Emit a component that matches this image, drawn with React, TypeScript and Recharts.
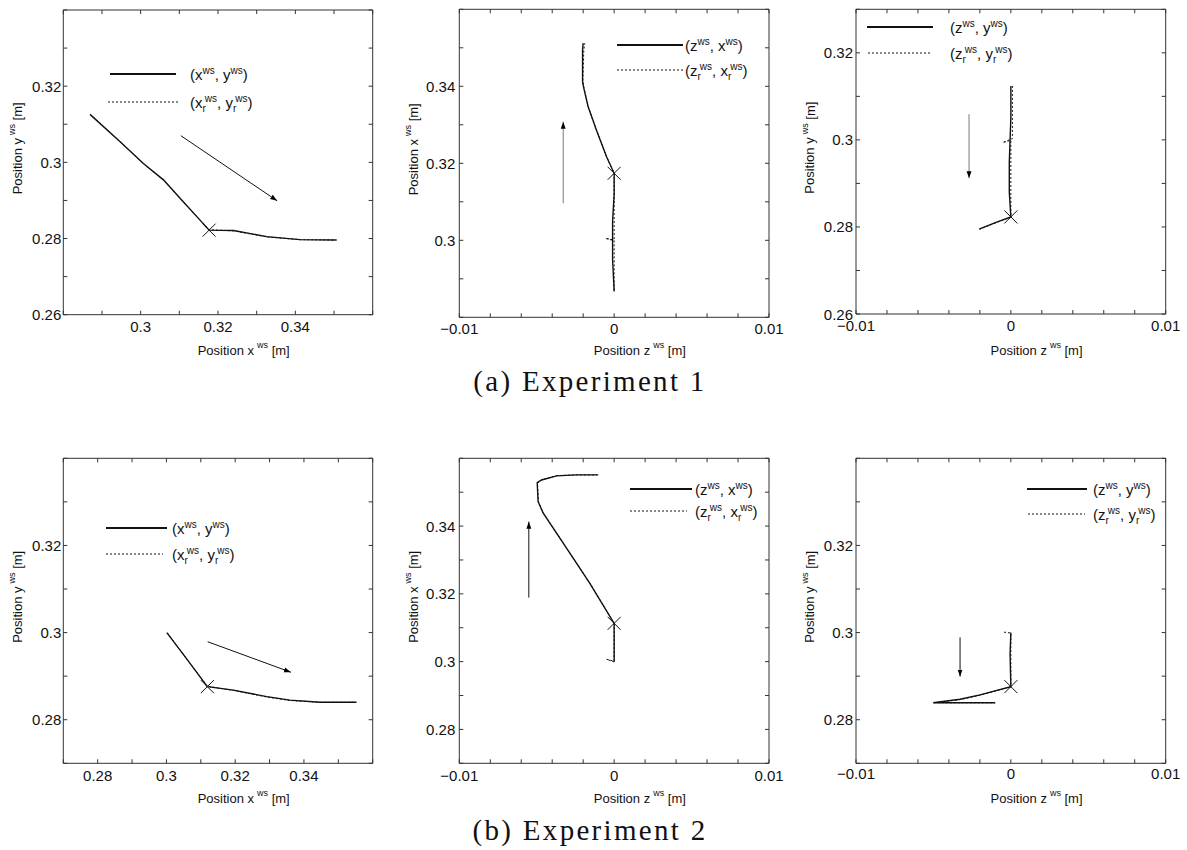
import React from 'react';
import { ScatterChart, Scatter, XAxis, YAxis, ReferenceArea, Legend } from 'recharts';

type Pt = { x: number; y: number };

// ---------- Experiment 1 ----------
// (x, y) plane
const exp1XY: Pt[] = [
  { x: 0.2869, y: 0.3126 }, { x: 0.2947, y: 0.3054 }, { x: 0.3007, y: 0.2997 }, { x: 0.3059, y: 0.2954 },
  { x: 0.3106, y: 0.2901 }, { x: 0.3153, y: 0.2849 }, { x: 0.3177, y: 0.2822 }, { x: 0.324, y: 0.2821 },
  { x: 0.3326, y: 0.2805 }, { x: 0.3412, y: 0.2797 }, { x: 0.3507, y: 0.2796 },
];
const exp1XYRef: Pt[] = [
  { x: 0.2871, y: 0.3125 }, { x: 0.2949, y: 0.3052 }, { x: 0.3008, y: 0.2996 }, { x: 0.306, y: 0.2952 },
  { x: 0.3107, y: 0.29 }, { x: 0.3154, y: 0.2848 }, { x: 0.3178, y: 0.2823 }, { x: 0.3241, y: 0.282 },
  { x: 0.3327, y: 0.2804 }, { x: 0.3413, y: 0.2797 }, { x: 0.3502, y: 0.2796 },
];
// (z, x) plane
const exp1ZX: Pt[] = [
  { x: 0, y: 0.2867 }, { x: -0.0001, y: 0.295 }, { x: -0.0001, y: 0.305 }, { x: 0, y: 0.312 },
  { x: 0, y: 0.3174 }, { x: -0.00049, y: 0.3217 }, { x: -0.00114, y: 0.3286 }, { x: -0.00168, y: 0.3347 },
  { x: -0.00196, y: 0.3395 }, { x: -0.00204, y: 0.3412 }, { x: -0.00204, y: 0.3494 }, { x: -0.002, y: 0.3512 },
];
const exp1ZXRef: Pt[] = [
  { x: 0, y: 0.287 }, { x: 0, y: 0.2999 }, { x: -0.00055, y: 0.3005 }, { x: 0, y: 0.3001 },
  { x: 0, y: 0.3174 }, { x: -0.0005, y: 0.3218 }, { x: -0.00115, y: 0.3287 }, { x: -0.00168, y: 0.3348 },
  { x: -0.00195, y: 0.3396 }, { x: -0.00202, y: 0.3413 }, { x: -0.00196, y: 0.3494 }, { x: -0.0019, y: 0.3512 },
];
// (z, y) plane
const exp1ZY: Pt[] = [
  { x: 0, y: 0.3124 }, { x: 0, y: 0.305 }, { x: -0.0001, y: 0.295 }, { x: -0.0001, y: 0.288 },
  { x: 0, y: 0.2823 }, { x: -0.001, y: 0.281 }, { x: -0.00205, y: 0.2795 },
];
const exp1ZYRef: Pt[] = [
  { x: 0.0001, y: 0.3124 }, { x: 0.0001, y: 0.3003 }, { x: -0.00052, y: 0.2994 }, { x: 0, y: 0.2999 },
  { x: 0, y: 0.2823 }, { x: -0.001, y: 0.2809 }, { x: -0.002, y: 0.2795 },
];
const exp1Switch: Pt[][] = [[{ x: 0.3177, y: 0.2822 }], [{ x: 0, y: 0.3174 }], [{ x: 0, y: 0.2823 }]];
const exp1Arrows: Pt[][] = [
  [{ x: 0.3104, y: 0.307 }, { x: 0.3353, y: 0.2899 }],
  [{ x: -0.00329, y: 0.3096 }, { x: -0.00329, y: 0.3308 }],
  [{ x: -0.0027, y: 0.3059 }, { x: -0.0027, y: 0.2912 }],
];

// ---------- Experiment 2 ----------
const exp2XY: Pt[] = [
  { x: 0.3001, y: 0.3 }, { x: 0.3054, y: 0.2945 }, { x: 0.3119, y: 0.2876 }, { x: 0.3195, y: 0.2868 },
  { x: 0.3292, y: 0.2853 }, { x: 0.3359, y: 0.2845 }, { x: 0.3447, y: 0.284 }, { x: 0.3553, y: 0.284 },
];
const exp2XYRef: Pt[] = [
  { x: 0.3003, y: 0.2999 }, { x: 0.3055, y: 0.2944 }, { x: 0.3119, y: 0.2877 }, { x: 0.3196, y: 0.2867 },
  { x: 0.3293, y: 0.2852 }, { x: 0.336, y: 0.2844 }, { x: 0.3448, y: 0.284 }, { x: 0.355, y: 0.284 },
];
const exp2ZX: Pt[] = [
  { x: 0, y: 0.3 }, { x: 0, y: 0.306 }, { x: 0, y: 0.3113 }, { x: -0.00157, y: 0.3231 },
  { x: -0.00286, y: 0.332 }, { x: -0.00459, y: 0.3439 }, { x: -0.00491, y: 0.3472 }, { x: -0.00497, y: 0.3528 },
  { x: -0.00469, y: 0.3536 }, { x: -0.00372, y: 0.3548 }, { x: -0.00243, y: 0.3551 }, { x: -0.00103, y: 0.3551 },
];
const exp2ZXRef: Pt[] = [
  { x: 0, y: 0.2999 }, { x: -0.00049, y: 0.3007 }, { x: 0, y: 0.3001 }, { x: 0, y: 0.3113 },
  { x: -0.00157, y: 0.3232 }, { x: -0.00287, y: 0.3321 }, { x: -0.00459, y: 0.344 }, { x: -0.0049, y: 0.3473 },
  { x: -0.00495, y: 0.3527 }, { x: -0.00465, y: 0.3537 }, { x: -0.0037, y: 0.3549 }, { x: -0.00245, y: 0.3551 },
  { x: -0.0011, y: 0.3551 },
];
const exp2ZY: Pt[] = [
  { x: 0, y: 0.3 }, { x: -0.00005, y: 0.295 }, { x: 0, y: 0.2876 }, { x: -0.00199, y: 0.2857 },
  { x: -0.00328, y: 0.2847 }, { x: -0.00501, y: 0.2839 }, { x: -0.003, y: 0.2839 }, { x: -0.00102, y: 0.2839 },
];
const exp2ZYRef: Pt[] = [
  { x: -0.00044, y: 0.3001 }, { x: 0, y: 0.2999 }, { x: 0, y: 0.2876 }, { x: -0.002, y: 0.2856 },
  { x: -0.0033, y: 0.2846 }, { x: -0.005, y: 0.2839 }, { x: -0.003, y: 0.2839 }, { x: -0.001, y: 0.2839 },
];
const exp2Switch: Pt[][] = [[{ x: 0.3119, y: 0.2876 }], [{ x: 0, y: 0.3113 }], [{ x: 0, y: 0.2876 }]];
const exp2Arrows: Pt[][] = [
  [{ x: 0.312, y: 0.2979 }, { x: 0.3362, y: 0.2909 }],
  [{ x: -0.00551, y: 0.3189 }, { x: -0.00551, y: 0.3413 }],
  [{ x: -0.00328, y: 0.2989 }, { x: -0.00328, y: 0.2899 }],
];

// ---------- ticks ----------
const zTicks = [-0.01, -0.008, -0.006, -0.004, -0.002, 0, 0.002, 0.004, 0.006, 0.008, 0.01];
const zMajor = [-0.01, 0, 0.01];
const x1Ticks = [0.28, 0.29, 0.3, 0.31, 0.32, 0.33, 0.34, 0.35, 0.36];
const x1Major = [0.3, 0.32, 0.34];
const x2Ticks = [0.27, 0.28, 0.29, 0.3, 0.31, 0.32, 0.33, 0.34, 0.35, 0.36];
const x2Major = [0.28, 0.3, 0.32, 0.34];
const y1Ticks = [0.26, 0.27, 0.28, 0.29, 0.3, 0.31, 0.32, 0.33, 0.34];
const y1Major = [0.26, 0.28, 0.3, 0.32];
const y3Ticks = [0.26, 0.27, 0.28, 0.29, 0.3, 0.31, 0.32, 0.33];
const y2Ticks = [0.27, 0.28, 0.29, 0.3, 0.31, 0.32, 0.33, 0.34];
const y2Major = [0.28, 0.3, 0.32];
const xOnZTicks = [0.28, 0.29, 0.3, 0.31, 0.32, 0.33, 0.34, 0.35, 0.36];
const xOnZMajor = [0.3, 0.32, 0.34];
const xOnZ2Ticks = [0.27, 0.28, 0.29, 0.3, 0.31, 0.32, 0.33, 0.34, 0.35, 0.36];
const xOnZ2Major = [0.28, 0.3, 0.32, 0.34];

const FONT = '"Liberation Sans", Arial, Helvetica, sans-serif';
const INK = '#111';
const FRAME = '#333';
const TICK = 4;

const fmt = (v: number) => parseFloat(v.toFixed(3)).toString().replace('-', '\u2212');
const isMajor = (v: number, list: number[]) => list.some((l) => Math.abs(l - v) < 1e-9);

type Box = { x0: number; y0: number; x1: number; y1: number };
type LegendPos = { x0: number; x1: number; d0: number; d1: number; y0: number; y1: number; tx: number };

interface Panel {
  key: string;
  left: number; top: number; width: number; height: number;
  box: Box;
  xDomain: [number, number]; yDomain: [number, number];
  xTicks: number[]; xMajor: number[]; yTicks: number[]; yMajor: number[];
  hVar: string; vVar: string;
  actual: Pt[]; reference: Pt[]; switchPt: Pt[]; arrow: Pt[]; arrowGray: boolean;
  xTickGap: number; yTickGap: number; xTitleY: number;
  legend: LegendPos;
}

const panels: Panel[] = [
  {
    key: 'a1', left: 0, top: 0, width: 392, height: 365,
    box: { x0: 63.3, y0: 10, x1: 372.7, y1: 314.7 },
    xDomain: [0.28, 0.36], yDomain: [0.26, 0.34],
    xTicks: x1Ticks, xMajor: x1Major, yTicks: y1Ticks, yMajor: y1Major,
    hVar: 'x', vVar: 'y', actual: exp1XY, reference: exp1XYRef, switchPt: exp1Switch[0], arrow: exp1Arrows[0], arrowGray: false,
    xTickGap: 12, yTickGap: 2, xTitleY: 350,
    legend: { x0: 110, x1: 176, d0: 108, d1: 180, y0: 74, y1: 102, tx: 190 },
  },
  {
    key: 'a2', left: 395, top: 0, width: 400, height: 365,
    box: { x0: 459.3, y0: 9.3, x1: 769, y1: 317.3 },
    xDomain: [-0.01, 0.01], yDomain: [0.28, 0.36],
    xTicks: zTicks, xMajor: zMajor, yTicks: xOnZTicks, yMajor: xOnZMajor,
    hVar: 'z', vVar: 'x', actual: exp1ZX, reference: exp1ZXRef, switchPt: exp1Switch[1], arrow: exp1Arrows[1], arrowGray: true,
    xTickGap: 11, yTickGap: 4, xTitleY: 350,
    legend: { x0: 617, x1: 683, d0: 617, d1: 683, y0: 45, y1: 70, tx: 685 },
  },
  {
    key: 'a3', left: 795, top: 0, width: 392, height: 365,
    box: { x0: 856, y0: 9.3, x1: 1165.7, y1: 314 },
    xDomain: [-0.01, 0.01], yDomain: [0.26, 0.33],
    xTicks: zTicks, xMajor: zMajor, yTicks: y3Ticks, yMajor: y1Major,
    hVar: 'z', vVar: 'y', actual: exp1ZY, reference: exp1ZYRef, switchPt: exp1Switch[2], arrow: exp1Arrows[2], arrowGray: true,
    xTickGap: 11, yTickGap: 3, xTitleY: 350,
    legend: { x0: 867, x1: 933, d0: 868, d1: 930, y0: 27, y1: 53, tx: 950 },
  },
  {
    key: 'b1', left: 0, top: 440, width: 392, height: 410,
    box: { x0: 63.3, y0: 458.3, x1: 372.7, y1: 763.3 },
    xDomain: [0.27, 0.36], yDomain: [0.27, 0.34],
    xTicks: x2Ticks, xMajor: x2Major, yTicks: y2Ticks, yMajor: y2Major,
    hVar: 'x', vVar: 'y', actual: exp2XY, reference: exp2XYRef, switchPt: exp2Switch[0], arrow: exp2Arrows[0], arrowGray: false,
    xTickGap: 12, yTickGap: 2, xTitleY: 798,
    legend: { x0: 106, x1: 167, d0: 106, d1: 163, y0: 528, y1: 554, tx: 172 },
  },
  {
    key: 'b2', left: 395, top: 440, width: 400, height: 410,
    box: { x0: 459.3, y0: 458.3, x1: 769, y1: 763.3 },
    xDomain: [-0.01, 0.01], yDomain: [0.27, 0.36],
    xTicks: zTicks, xMajor: zMajor, yTicks: xOnZ2Ticks, yMajor: xOnZ2Major,
    hVar: 'z', vVar: 'x', actual: exp2ZX, reference: exp2ZXRef, switchPt: exp2Switch[1], arrow: exp2Arrows[1], arrowGray: false,
    xTickGap: 12, yTickGap: 4, xTitleY: 798,
    legend: { x0: 630, x1: 692, d0: 630, d1: 687, y0: 489, y1: 511, tx: 695 },
  },
  {
    key: 'b3', left: 795, top: 440, width: 392, height: 410,
    box: { x0: 856, y0: 458.3, x1: 1165.7, y1: 763.3 },
    xDomain: [-0.01, 0.01], yDomain: [0.27, 0.34],
    xTicks: zTicks, xMajor: zMajor, yTicks: y2Ticks, yMajor: y2Major,
    hVar: 'z', vVar: 'y', actual: exp2ZY, reference: exp2ZYRef, switchPt: exp2Switch[2], arrow: exp2Arrows[2], arrowGray: false,
    xTickGap: 10, yTickGap: 3, xTitleY: 798,
    legend: { x0: 1027, x1: 1087, d0: 1028, d1: 1085, y0: 489, y1: 514, tx: 1093 },
  },
];

const noDot = () => <g />;

const Cross = (props: any) => {
  const { cx, cy } = props;
  const s = 6.5;
  return (
    <g stroke={INK} strokeWidth={1}>
      <line x1={cx - s} y1={cy - s} x2={cx + s} y2={cy + s} />
      <line x1={cx - s} y1={cy + s} x2={cx + s} y2={cy - s} />
    </g>
  );
};

const AxisTitle = ({ x, y, v, rotate }: { x: number; y: number; v: string; rotate?: boolean }) => (
  <text
    x={x}
    y={y}
    textAnchor="middle"
    dominantBaseline="central"
    fontFamily={FONT}
    fontSize={13}
    fill={INK}
    transform={rotate ? `rotate(-90 ${x} ${y})` : undefined}
  >
    Position {v}
    <tspan dx={3} dy={-5} fontSize={9}>ws</tspan>
    <tspan dy={5}> [m]</tspan>
  </text>
);

const Pair = ({ a, b, r, x, y }: { a: string; b: string; r?: boolean; x: number; y: number }) => (
  <text x={x} y={y} fontFamily={FONT} fontSize={15} fill={INK}>
    <tspan>({a}</tspan>
    {r && <tspan dy={4} fontSize={10}>r</tspan>}
    <tspan dx={r ? -1 : 0} dy={r ? -10 : -6} fontSize={10}>ws</tspan>
    <tspan dy={6}>, {b}</tspan>
    {r && <tspan dy={4} fontSize={10}>r</tspan>}
    <tspan dx={r ? -1 : 0} dy={r ? -10 : -6} fontSize={10}>ws</tspan>
    <tspan dy={6}>)</tspan>
  </text>
);

function TrajectoryPanel({ p }: { p: Panel }) {
  // axes take 1px each (a zero-sized axis is not drawn), so the margins give way by that pixel
  const margin = {
    left: p.box.x0 - p.left - 1,
    top: p.box.y0 - p.top,
    right: p.left + p.width - p.box.x1,
    bottom: p.top + p.height - p.box.y1 - 1,
  };
  const plotW = p.box.x1 - p.box.x0;
  const plotH = p.box.y1 - p.box.y0;
  const lg = p.legend;
  const ox = p.left;
  const oy = p.top;
  const arrowColor = p.arrowGray ? '#7a7a7a' : INK;

  const XTick = (props: any) => {
    const { x, y, payload } = props;
    return (
      <g>
        <line x1={x} y1={y} x2={x} y2={y - TICK} stroke={FRAME} />
        <line x1={x} y1={y - plotH} x2={x} y2={y - plotH + TICK} stroke={FRAME} />
        {isMajor(payload.value, p.xMajor) && (
          <text x={x} y={y + p.xTickGap} textAnchor="middle" dominantBaseline="central" fontFamily={FONT} fontSize={15} fill={INK}>
            {fmt(payload.value)}
          </text>
        )}
      </g>
    );
  };

  const YTick = (props: any) => {
    const { x, y, payload } = props;
    return (
      <g>
        <line x1={x} y1={y} x2={x + TICK} y2={y} stroke={FRAME} />
        <line x1={x + plotW} y1={y} x2={x + plotW - TICK} y2={y} stroke={FRAME} />
        {isMajor(payload.value, p.yMajor) && (
          <text x={x - p.yTickGap} y={y} textAnchor="end" dominantBaseline="central" fontFamily={FONT} fontSize={15} fill={INK}>
            {fmt(payload.value)}
          </text>
        )}
      </g>
    );
  };

  const renderLegend = () => (
    <svg width={p.width} height={p.height} style={{ display: 'block' }}>
      <line x1={lg.x0 - ox} y1={lg.y0 - oy} x2={lg.x1 - ox} y2={lg.y0 - oy} stroke={INK} strokeWidth={2} />
      <line x1={lg.d0 - ox} y1={lg.y1 - oy} x2={lg.d1 - ox} y2={lg.y1 - oy} stroke={INK} strokeWidth={1} strokeDasharray="2 2" />
      <Pair a={p.hVar} b={p.vVar} x={lg.tx - ox} y={lg.y0 - oy + 5.5} />
      <Pair a={p.hVar} b={p.vVar} r x={lg.tx - ox} y={lg.y1 - oy + 5.5} />
    </svg>
  );

  return (
    <div style={{ position: 'absolute', left: p.left, top: p.top }}>
      <ScatterChart width={p.width} height={p.height} margin={margin}>
        <XAxis
          type="number"
          dataKey="x"
          domain={p.xDomain}
          ticks={p.xTicks}
          interval={0}
          allowDataOverflow
          height={1}
          tickSize={0}
          tickMargin={0}
          axisLine={false}
          tickLine={false}
          tick={XTick}
          label={() => <AxisTitle x={p.box.x0 - ox + plotW / 2 + 25.7} y={p.xTitleY - oy} v={p.hVar} />}
        />
        <YAxis
          type="number"
          dataKey="y"
          domain={p.yDomain}
          ticks={p.yTicks}
          interval={0}
          allowDataOverflow
          width={1}
          tickSize={0}
          tickMargin={0}
          axisLine={false}
          tickLine={false}
          tick={YTick}
          label={() => (
            <AxisTitle x={p.box.x0 - ox - 46} y={p.box.y0 - oy + plotH / 2 - 14} v={p.vVar} rotate />
          )}
        />
        <ReferenceArea
          x1={p.xDomain[0]}
          x2={p.xDomain[1]}
          y1={p.yDomain[0]}
          y2={p.yDomain[1]}
          fill="none"
          stroke={FRAME}
          strokeWidth={1}
          ifOverflow="visible"
        />
        <Scatter
          name="reference"
          data={p.reference}
          fill={INK}
          line={{ stroke: INK, strokeWidth: 1, strokeDasharray: '2 2' }}
          shape={noDot}
          isAnimationActive={false}
        />
        <Scatter
          name="actual"
          data={p.actual}
          fill={INK}
          line={{ stroke: INK, strokeWidth: 1.4 }}
          shape={noDot}
          isAnimationActive={false}
        />
        <Scatter name="switch" data={p.switchPt} fill={INK} shape={Cross} isAnimationActive={false} />
        <Scatter
          name="direction"
          data={p.arrow}
          fill={arrowColor}
          line={{ stroke: arrowColor, strokeWidth: 1, markerEnd: p.arrowGray ? 'url(#headGray)' : 'url(#headBlack)' }}
          shape={noDot}
          isAnimationActive={false}
        />
        <Legend
          layout="vertical"
          align="center"
          verticalAlign="middle"
          wrapperStyle={{ left: 0, top: 0, width: p.width, height: p.height, pointerEvents: 'none' }}
          content={renderLegend}
        />
      </ScatterChart>
    </div>
  );
}

const captionStyle: React.CSSProperties = {
  position: 'absolute',
  left: 0,
  width: 1180,
  textAlign: 'center',
  fontFamily: '"Liberation Serif", "Times New Roman", serif',
  fontSize: 29,
  letterSpacing: 2.3,
  lineHeight: '29px',
  color: '#111',
  whiteSpace: 'nowrap',
};

export default function App() {
  return (
    <div style={{ position: 'absolute', left: 0, top: 0, width: 1187, height: 850, background: '#fff', overflow: 'hidden' }}>
      <svg width={0} height={0} style={{ position: 'absolute' }}>
        <defs>
          <marker id="headBlack" viewBox="0 0 10 10" refX={10} refY={5} markerWidth={7} markerHeight={7} markerUnits="userSpaceOnUse" orient="auto">
            <path d="M0,1.5 L10,5 L0,8.5 Z" fill="#000" />
          </marker>
          <marker id="headGray" viewBox="0 0 10 10" refX={10} refY={5} markerWidth={7} markerHeight={7} markerUnits="userSpaceOnUse" orient="auto">
            <path d="M0,1.5 L10,5 L0,8.5 Z" fill="#000" />
          </marker>
        </defs>
      </svg>
      {panels.map((p) => (
        <TrajectoryPanel key={p.key} p={p} />
      ))}
      <div style={{ ...captionStyle, top: 367 }}>(a) Experiment 1</div>
      <div style={{ ...captionStyle, top: 816 }}>(b) Experiment 2</div>
    </div>
  );
}
